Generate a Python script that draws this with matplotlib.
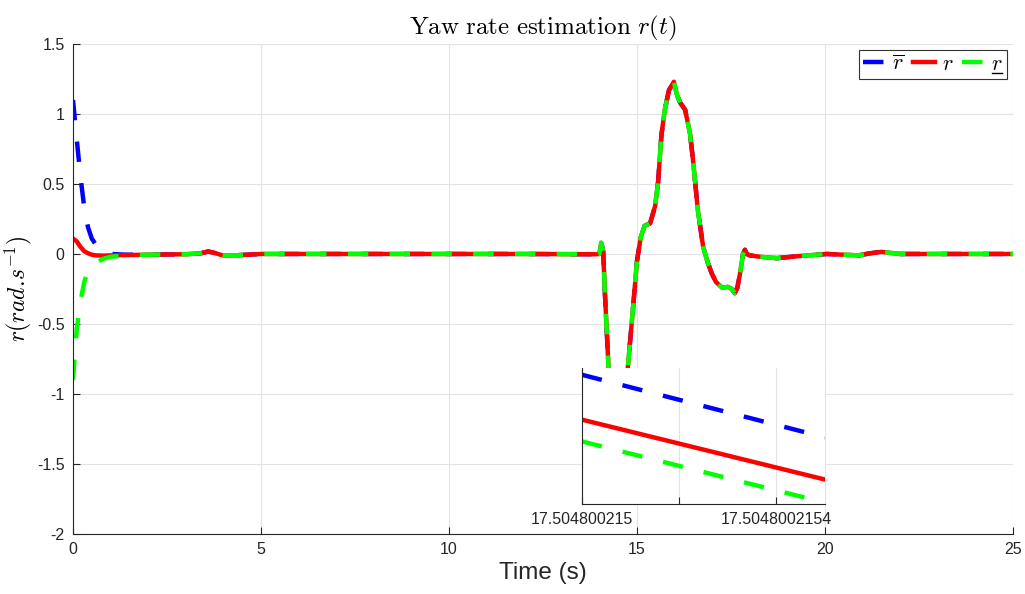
import numpy as np
import matplotlib
matplotlib.use("Agg")
import matplotlib.pyplot as plt
from matplotlib.lines import Line2D

plt.rcParams["font.family"] = ["Liberation Sans", "DejaVu Sans"]
plt.rcParams["mathtext.fontset"] = "cm"

# yaw rate r(t) and its upper / lower estimates
t = [0.0, 0.1, 0.2, 0.3, 0.4, 0.5, 0.6, 0.8, 1.0, 1.4,
     2.0, 3.0, 3.4, 3.6, 3.8, 4.0, 4.3, 5.0, 8.0, 12.0,
     13.9, 14.0, 14.05, 14.1, 14.15, 14.25, 14.35, 14.45, 14.55, 14.65,
     14.76, 14.89, 15.0, 15.1, 15.2, 15.35, 15.48, 15.56, 15.65, 15.74,
     15.85, 15.98, 16.07, 16.15, 16.28, 16.41, 16.49, 16.62, 16.76, 16.88,
     16.99, 17.1, 17.26, 17.42, 17.52, 17.6, 17.67, 17.74, 17.82, 17.87,
     17.92, 18.0, 18.27, 18.72, 19.3, 20.05, 20.9, 21.2, 21.5, 22.0, 25.0]

r = [0.11, 0.09, 0.05, 0.02, 0.005, -0.005, -0.01, -0.012, -0.01, -0.008,
     -0.005, -0.002, 0.005, 0.018, 0.005, -0.012, -0.01, 0.0, 0.0, 0.0,
     -0.002, 0.0, 0.08, 0.02, -0.3, -0.85, -1.2, -1.35, -1.3, -1.1,
     -0.8, -0.4, -0.05, 0.12, 0.2, 0.22, 0.34, 0.51, 0.85, 1.03,
     1.17, 1.23, 1.13, 1.08, 1.03, 0.86, 0.67, 0.31, 0.05, -0.06,
     -0.14, -0.2, -0.24, -0.235, -0.25, -0.28, -0.24, -0.14, 0.0, 0.03,
     0.0, -0.01, -0.02, -0.03, -0.015, 0.0, -0.01, 0.005, 0.015, 0.0, 0.0]

# bounds start apart and join r after the transient
r_up_start = [1.1, 0.82, 0.55, 0.33, 0.19, 0.11, 0.07, 0.02, 0.0, -0.005]
r_low_start = [-0.9, -0.54, -0.34, -0.2, -0.12, -0.09, -0.065, -0.035, -0.02, -0.01]
r_up = r_up_start + r[len(r_up_start):]
r_low = r_low_start + r[len(r_low_start):]

# zoomed window around t = 17.5048
zoom_t = [17.504800215, 17.5048002155]
zoom_up = [0.95, 0.49]
zoom_r = [0.62, 0.18]
zoom_low = [0.46, 0.01]
zoom_ticks = [17.504800215, 17.5048002152, 17.5048002154]
zoom_ticklabels = ["17.504800215", "", "17.5048002154"]

dash = (4.6, 4.8)
lw = 3.2
c_up, c_r, c_low = "#0000ff", "#ff0000", "#00ff00"
axis_col = "#262626"

fig = plt.figure(figsize=(10.25, 5.94), dpi=100)
ax = fig.add_axes([0.0712, 0.101, 0.9171, 0.825])

ax.plot(t, r_up, color=c_up, lw=lw, dashes=dash, label=r"$\overline{r}$")
ax.plot(t, r, color=c_r, lw=lw, label=r"$r$")
ax.plot(t, r_low, color=c_low, lw=lw, dashes=dash, label=r"$r$")

ax.set_xlim(0, 25)
ax.set_ylim(-2, 1.5)
ax.set_xticks(np.arange(0, 26, 5))
ax.set_yticks(np.arange(-2, 1.51, 0.5))
ax.set_yticklabels(["-2", "-1.5", "-1", "-0.5", "0", "0.5", "1", "1.5"])
ax.grid(True, color="#e3e3e3", lw=0.8)
ax.set_axisbelow(True)
for s in ["top", "right"]:
    ax.spines[s].set_visible(False)
for s in ["left", "bottom"]:
    ax.spines[s].set_color(axis_col)
    ax.spines[s].set_linewidth(0.8)
ax.tick_params(direction="in", length=5, colors=axis_col, labelsize=11.5, pad=6)

ax.set_title(r"$\mathrm{Yaw\ rate\ estimation}\ r(t)$", fontsize=18, pad=7)
ax.set_xlabel("Time (s)", fontsize=17.5, color=axis_col, labelpad=3)
ax.set_ylabel(r"$r(rad.\!s^{-1})$", fontsize=17)
ax.yaxis.set_label_coords(-0.041, 0.5)

leg = ax.legend(loc="upper right", ncol=3, fontsize=16, handlelength=1.0,
                handletextpad=0.3, columnspacing=0.4, borderpad=0.2,
                borderaxespad=0.25, fancybox=False, framealpha=1)
leg.get_frame().set_edgecolor("#333333")
leg.get_frame().set_linewidth(0.8)

# mathtext has no \underline, so draw the bar under the last legend label
fig.canvas.draw()
bb = leg.get_texts()[2].get_window_extent().transformed(fig.transFigure.inverted())
y_bar = bb.y0 + 0.1 * bb.height
fig.add_artist(Line2D([bb.x0 + 0.05 * bb.width, bb.x1 - 0.05 * bb.width], [y_bar, y_bar],
                      transform=fig.transFigure, color="black", lw=1.0, zorder=10))

# inset
axz = fig.add_axes([0.5678, 0.1515, 0.237, 0.229])
axz.plot(zoom_t, zoom_up, color=c_up, lw=lw, dashes=dash)
axz.plot(zoom_t, zoom_r, color=c_r, lw=lw)
axz.plot(zoom_t, zoom_low, color=c_low, lw=lw, dashes=dash)
axz.set_xlim(zoom_t)
axz.set_ylim(0, 1)
axz.set_xticks(zoom_ticks)
axz.set_xticklabels(zoom_ticklabels)
axz.set_yticks([])
axz.grid(True, axis="x", color="#e3e3e3", lw=0.8)
axz.set_axisbelow(True)
for s in ["top", "right"]:
    axz.spines[s].set_visible(False)
for s in ["left", "bottom"]:
    axz.spines[s].set_color(axis_col)
    axz.spines[s].set_linewidth(0.8)
axz.tick_params(direction="in", length=5, colors=axis_col, labelsize=11.5, pad=6)

fig.savefig("out.png", dpi=100)
